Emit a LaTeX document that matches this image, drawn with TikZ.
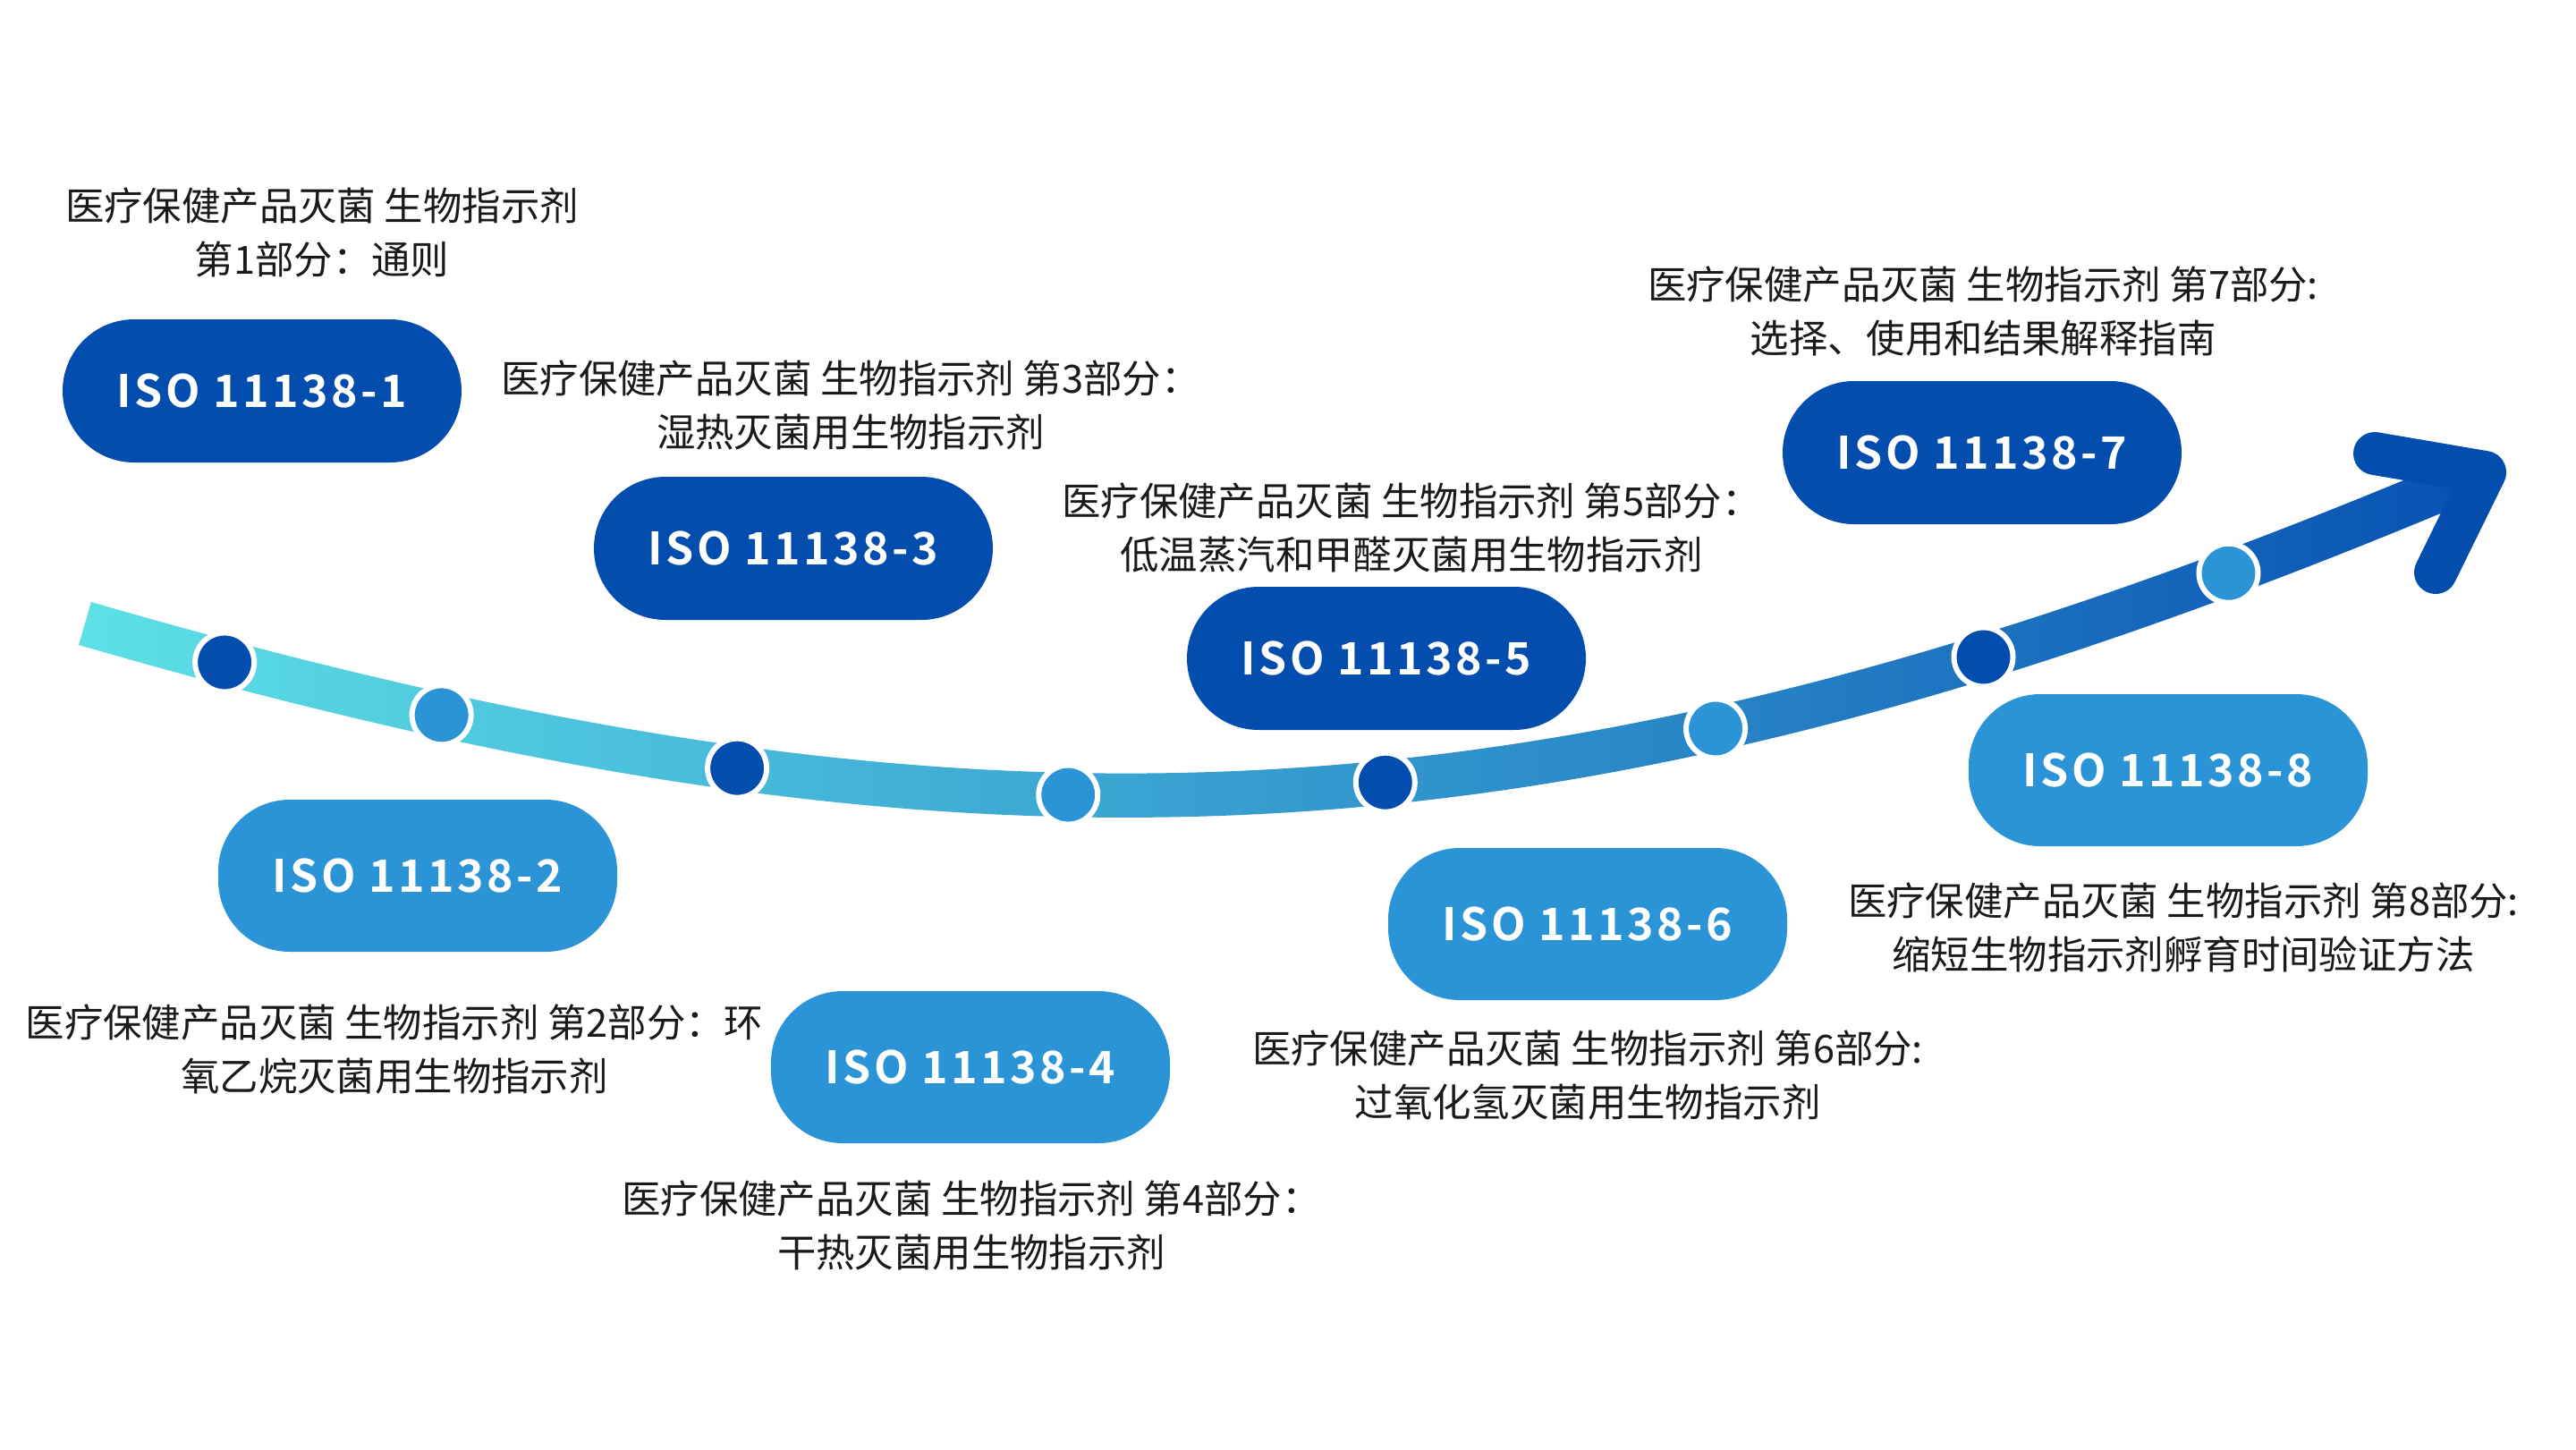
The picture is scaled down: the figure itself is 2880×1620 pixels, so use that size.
\documentclass[tikz,border=0pt]{standalone}
\usepackage{fontspec}
\newfontfamily\cjk{Noto Sans CJK SC}
\newfontfamily\isofont{Noto Sans CJK SC Bold}[LetterSpace=7]
\definecolor{darkblue}{HTML}{034DAE}
\definecolor{lightblue}{HTML}{2B94D6}
\definecolor{txt}{HTML}{1A1A1A}
\definecolor{gA}{HTML}{5DE0E6}
\definecolor{gB}{HTML}{3AA4D2}
\definecolor{gC}{HTML}{2682C5}
\definecolor{gD}{HTML}{0852B3}
\pgfdeclarehorizontalshading{bandshade}{100bp}{color(0bp)=(gA); color(25bp)=(gA); color(47bp)=(gB); color(60bp)=(gC); color(75bp)=(gD); color(100bp)=(gD)}
\begin{document}
\begin{tikzpicture}[x=1pt,y=-1pt,
  pillbase/.style={rectangle, rounded corners=80pt, minimum width=446pt, inner sep=0pt, text=white,
    font=\isofont\fontsize{50pt}{52pt}\selectfont},
  pilldark/.style={pillbase, fill=darkblue, minimum height=160pt},
  pilllight/.style={pillbase, fill=lightblue, minimum height=170pt},
  desc/.style={align=center, text=txt, inner sep=0pt, font=\cjk\fontsize{43.4pt}{60pt}\selectfont},
  dotbase/.style={circle, minimum size=66pt, inner sep=0pt, draw=white, line width=6pt},
  dotdark/.style={dotbase, fill=darkblue},
  dotlight/.style={dotbase, fill=lightblue},
  arrowhd/.style={draw=darkblue, line width=48pt, line cap=round, line join=round}]
\useasboundingbox (0,0) rectangle (2880,1620);
\fill[white] (0,0) rectangle (2880,1620);
% centre line of the band
\coordinate (c0) at (95,697);
\coordinate (c1) at (1095,987);
\coordinate (c2) at (1745,960);
\coordinate (c3) at (2745,540);
% band (offset outline, shaded)
\shade[shading=bandshade]
  (101.96,672.99) .. controls (1098.0,961.85) and (1739.5,935.2) .. (2735.3,516.95)
  -- (2754.7,563.05) .. controls (1750.5,984.8) and (1092.0,1012.15) .. (88.04,721.01)
  -- cycle;
% arrow head
\coordinate (ha) at (2655,507);
\coordinate (hb) at (2778,528);
\coordinate (hc) at (2723,640);
\draw[arrowhd] (ha) -- (hb) -- (hc);
% dots on the centre line
\path (c0) .. controls (c1) and (c2) .. (c3)
  node[dotdark,  pos=0.053] (d1) {}
  node[dotlight, pos=0.139] (d2) {}
  node[dotdark,  pos=0.263] (d3) {}
  node[dotlight, pos=0.409] (d4) {}
  node[dotdark,  pos=0.552] (d5) {}
  node[dotlight, pos=0.699] (d6) {}
  node[dotdark,  pos=0.8135] (d7) {}
  node[dotlight, pos=0.913] (d8) {};
% pills
\node[pilldark]  (p1) at (293,437)  {ISO 11138-1};
\node[pilllight] (p2) at (467,979)  {ISO 11138-2};
\node[pilldark]  (p3) at (887,613)  {ISO 11138-3};
\node[pilllight] (p4) at (1085,1193) {ISO 11138-4};
\node[pilldark]  (p5) at (1550,736) {ISO 11138-5};
\node[pilllight] (p6) at (1775,1033) {ISO 11138-6};
\node[pilldark]  (p7) at (2216,506) {ISO 11138-7};
\node[pilllight] (p8) at (2424,861) {ISO 11138-8};
% descriptions
\node[desc] (t1) at (360,260)   {医疗保健产品灭菌 生物指示剂\\第1部分：通则};
\node[desc] (t2) at (441,1173)  {医疗保健产品灭菌 生物指示剂 第2部分：环\\氧乙烷灭菌用生物指示剂};
\node[desc] (t3) at (951,453)   {医疗保健产品灭菌 生物指示剂 第3部分：\\湿热灭菌用生物指示剂};
\node[desc] (t4) at (1086,1370) {医疗保健产品灭菌 生物指示剂 第4部分：\\干热灭菌用生物指示剂};
\node[desc] (t5) at (1578,590)  {医疗保健产品灭菌 生物指示剂 第5部分：\\低温蒸汽和甲醛灭菌用生物指示剂};
\node[desc] (t6) at (1775,1202) {医疗保健产品灭菌 生物指示剂 第6部分:\\过氧化氢灭菌用生物指示剂};
\node[desc] (t7) at (2217,348)  {医疗保健产品灭菌 生物指示剂 第7部分:\\选择、使用和结果解释指南};
\node[desc] (t8) at (2441,1037) {医疗保健产品灭菌 生物指示剂 第8部分:\\缩短生物指示剂孵育时间验证方法};
\end{tikzpicture}
\end{document}
